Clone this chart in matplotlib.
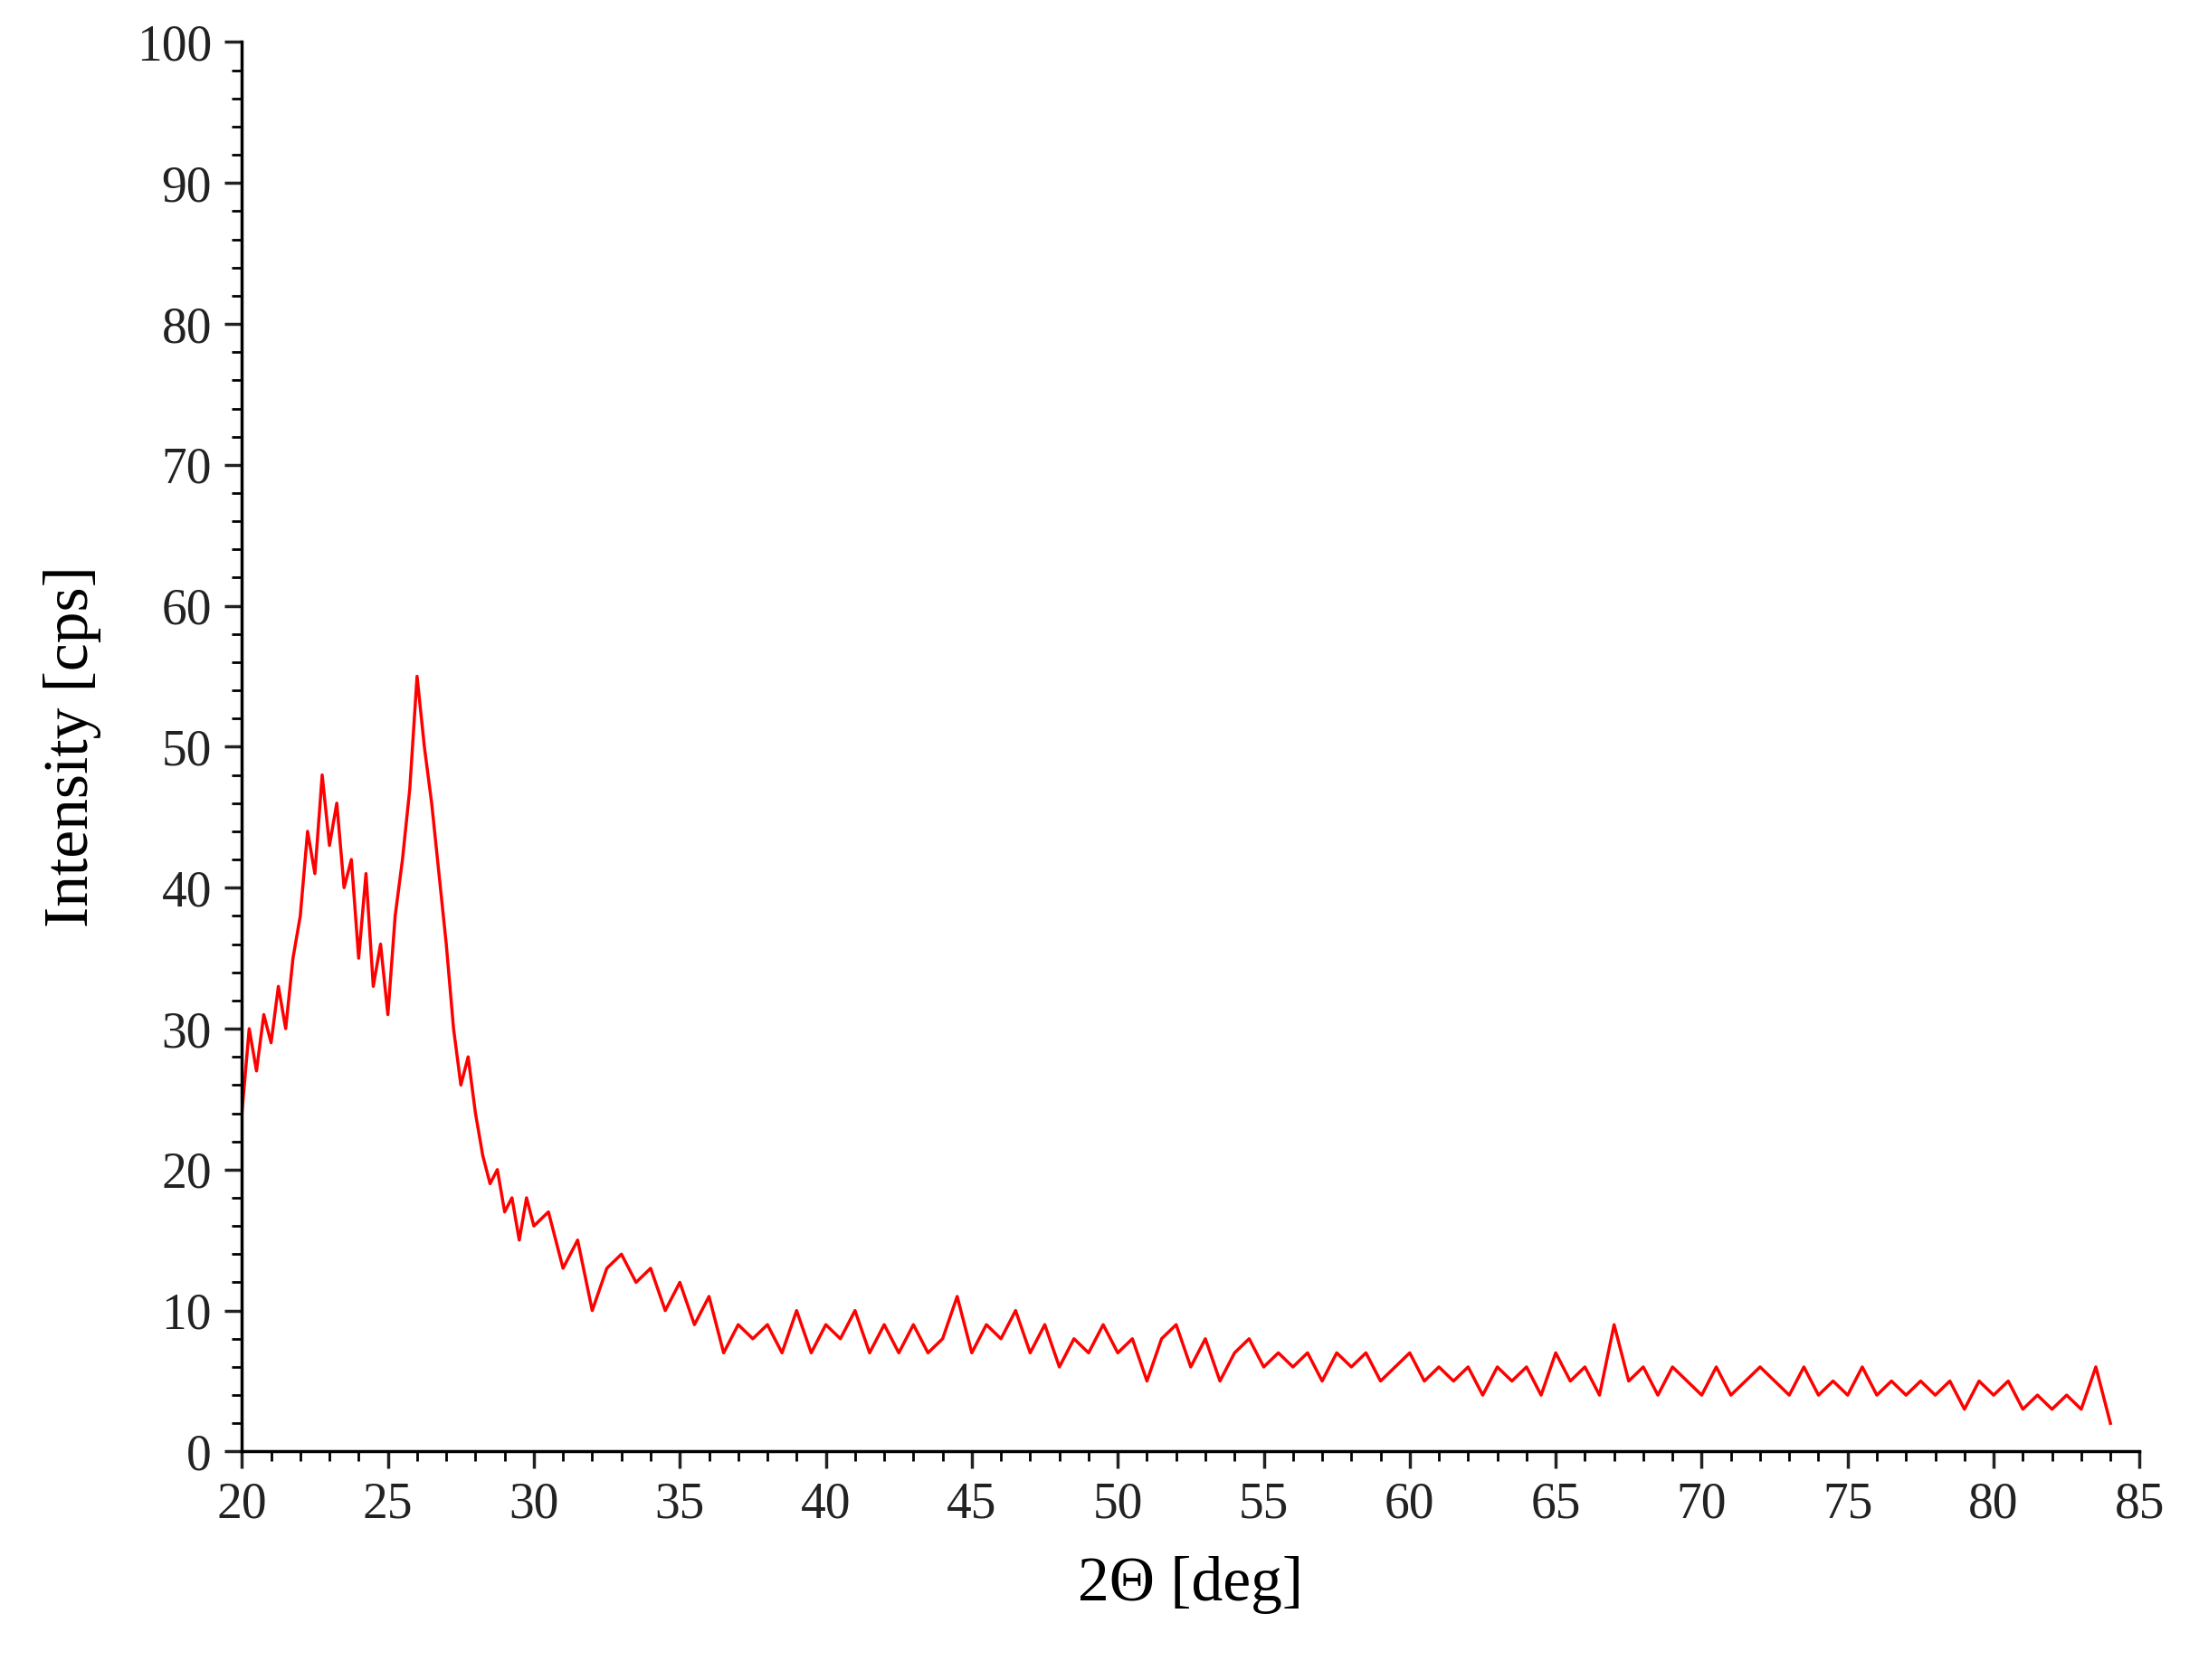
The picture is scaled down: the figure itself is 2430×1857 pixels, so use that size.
import numpy as np
import matplotlib
matplotlib.use("Agg")
import matplotlib.pyplot as plt
from matplotlib.ticker import MultipleLocator

theta_fine = np.arange(20, 30.01, 0.25)
intensity_fine = [24,30,27,31,29,33,30,35,38,44,41,48,43,46,40,42,35,41,33,36,31,38,42,47,55,50,46,41,36,30,26,28,24,21,19,20,17,18,15,18,16]
theta_coarse = np.arange(30.5, 84.01, 0.5)
intensity_coarse = [17,13,15,10,13,14,12,13,10,12,9,11,7,9,8,9,7,10,7,9,8,10,7,9,7,9,7,8,11,7,9,8,10,7,9,6,8,7,9,7,8,5,8,9,6,8,5,7,8,6,7,6,7,5,7,6,7,5,6,7,5,6,5,6,4,6,5,6,4,7,5,6,4,9,5,6,4,6,5,4,6,4,5,6,5,4,6,4,5,4,6,4,5,4,5,4,5,3,5,4,5,3,4,3,4,3,6,2]

theta = np.concatenate([theta_fine, theta_coarse])
intensity = np.array(intensity_fine + intensity_coarse)

plt.rcParams['font.family'] = ['Liberation Serif', 'DejaVu Serif']
fig = plt.figure(figsize=(24.3, 18.57), dpi=100)
ax = fig.add_axes([0.11, 0.136, 0.863, 0.839])
ax.plot(theta, intensity, color='#ff0000', lw=2.5)
ax.set_xlim(20, 85)
ax.set_ylim(0, 100)
ax.xaxis.set_major_locator(MultipleLocator(5))
ax.xaxis.set_minor_locator(MultipleLocator(1))
ax.yaxis.set_major_locator(MultipleLocator(10))
ax.yaxis.set_minor_locator(MultipleLocator(2))
for s in ['top', 'right']:
    ax.spines[s].set_visible(False)
for s in ['left', 'bottom']:
    ax.spines[s].set_linewidth(2.5)
ax.tick_params(which='major', direction='out', length=14, width=2.5, labelsize=40, colors='#222222', pad=10)
ax.tick_params(which='minor', direction='out', length=8, width=2)
ax.set_xlabel('2Θ [deg]', fontsize=50, labelpad=22)
ax.set_ylabel('Intensity [cps]', fontsize=50, labelpad=28)
fig.savefig('out.png', dpi=100, facecolor='white')
